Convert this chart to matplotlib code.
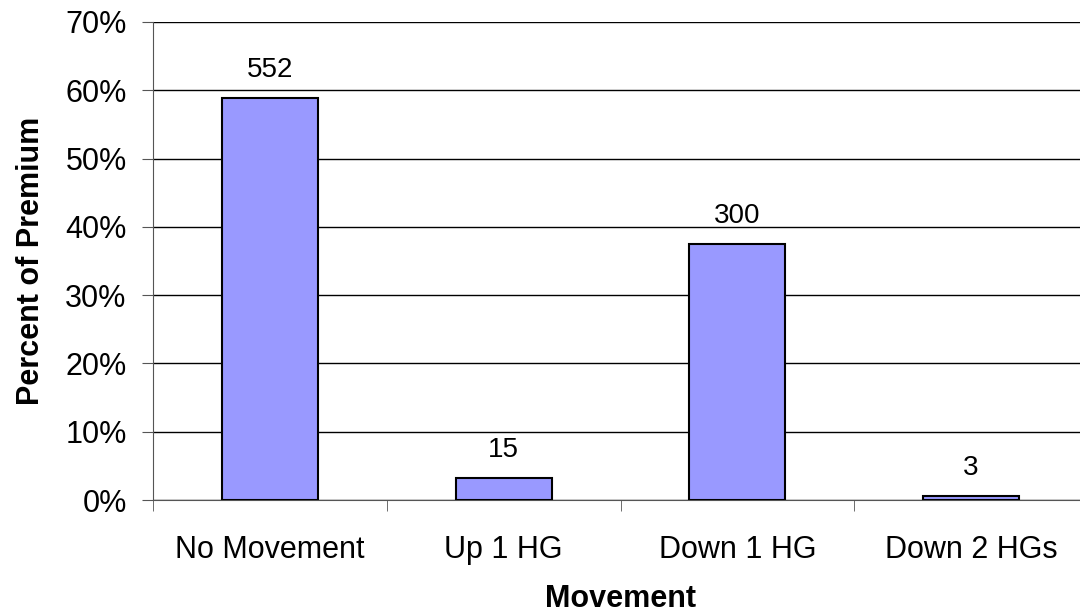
import matplotlib.pyplot as plt
import numpy as np

categories = ['No Movement', 'Up 1 HG', 'Down 1 HG', 'Down 2 HGs']
percents = [58.9, 3.2, 37.5, 0.6]
counts = ['552', '15', '300', '3']

plt.rcParams['font.family'] = ['Liberation Sans', 'DejaVu Sans']

fig = plt.figure(figsize=(10.8, 6.16), dpi=100)
ax = fig.add_axes([0.1417, 0.1883, 0.8657, 0.776])

x = np.arange(len(categories))
ax.bar(x, percents, width=0.41, color='#9999ff', edgecolor='black', linewidth=1.5, zorder=3)

for xi, p, c in zip(x, percents, counts):
    ax.text(xi, p + 2.2, c, ha='center', va='bottom', fontsize=20)

ax.set_xlim(-0.5, 3.5)
ax.set_ylim(0, 70)
ax.set_yticks(np.arange(0, 71, 10))
ax.set_yticklabels([f'{v}%' for v in range(0, 71, 10)], fontsize=22)
ax.yaxis.grid(True, color='black', linewidth=1)
ax.set_axisbelow(True)

ax.set_xticks(x)
ax.set_xticklabels(categories, fontsize=22)
ax.set_xticks(np.arange(-0.5, 3.6, 1), minor=True)
ax.tick_params(axis='x', which='major', length=0, pad=25)
ax.tick_params(axis='x', which='minor', length=8, color='#555555')
ax.tick_params(axis='y', length=8, color='#555555', pad=11)

for s in ['top', 'right']:
    ax.spines[s].set_visible(False)
ax.spines['left'].set_color('#555555')
ax.spines['bottom'].set_color('#555555')

ax.set_xlabel('Movement', fontsize=22, fontweight='bold', labelpad=14)
ax.set_ylabel('Percent of Premium', fontsize=22, fontweight='bold', labelpad=14)

fig.savefig('out.png', dpi=100)
